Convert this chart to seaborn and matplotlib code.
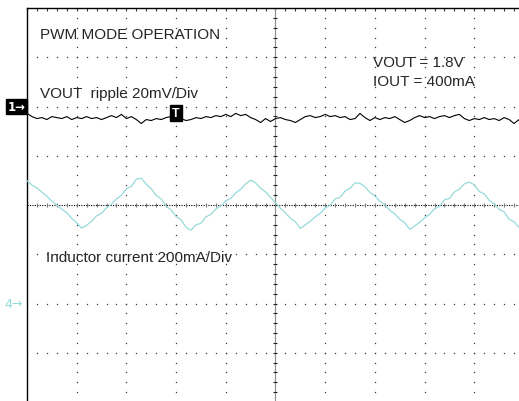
#!/usr/bin/env python3

import numpy as np
import matplotlib
matplotlib.use("Agg")
import matplotlib.pyplot as plt
import seaborn as sns

# Scope screen: 10 horizontal divisions, 8 vertical divisions
n_xdiv = 10
n_ydiv = 8

# Channel settings
ch1_offset_div = 2.0      # "1->" marker
ch1_scale_mv = 20.0       # VOUT ripple 20mV/Div
ch4_offset_div = -2.0     # "4->" marker
ch4_scale_ma = 200.0      # Inductor current 200mA/Div

# Sample positions along the time axis, in divisions
time_div = np.arange(101) * 0.1

# VOUT ripple (AC coupled), mV relative to the ch1 marker
vout_mv = [-2.8, -4.1, -4.9, -4.5, -5.3, -4.1, -4.5, -4.9, -4.1, -5.3,
           -4.5, -4.9, -4.1, -4.9, -4.5, -5.3, -4.5, -3.7, -4.5, -3.2,
           -4.9, -4.1, -5.3, -6.9, -5.3, -5.7, -4.9, -5.3, -4.5, -4.1,
           -3.7, -4.9, -5.7, -5.3, -4.5, -4.9, -4.1, -4.5, -3.7, -4.1,
           -3.2, -4.1, -2.8, -3.7, -3.2, -4.5, -5.3, -6.5, -4.9, -6.1,
           -4.9, -4.5, -5.3, -5.7, -6.5, -5.3, -4.1, -3.7, -4.5, -4.1,
           -3.2, -4.1, -3.7, -4.5, -4.1, -5.3, -4.9, -2.8, -4.5, -5.7,
           -4.5, -5.3, -4.5, -4.9, -4.1, -5.3, -6.5, -5.7, -4.5, -3.7,
           -4.5, -4.1, -4.9, -4.1, -3.7, -4.5, -3.7, -3.2, -4.9, -5.7,
           -4.9, -5.3, -4.5, -5.3, -4.9, -5.7, -4.5, -5.3, -6.9, -5.3,
           -4.9]

# Inductor current, mA
il_ma = [499, 481, 469, 452, 436, 415, 400, 383, 368, 346,
         327, 306, 318, 334, 356, 366, 389, 403, 425, 439,
         466, 476, 505, 509, 484, 466, 439, 425, 395, 380,
         353, 340, 309, 298, 319, 326, 352, 362, 384, 395,
         417, 427, 449, 464, 486, 501, 490, 468, 453, 431,
         409, 387, 368, 346, 332, 305, 319, 334, 352, 366,
         388, 399, 425, 431, 457, 468, 490, 488, 474, 451,
         437, 415, 401, 378, 364, 342, 328, 301, 315, 330,
         348, 362, 384, 395, 421, 427, 453, 464, 486, 493,
         482, 455, 445, 419, 405, 382, 372, 342, 332, 309,
         302]

trigger_pos_div = 3.0

FONTS = ['Liberation Sans', 'DejaVu Sans']
MARK_FONTS = ['DejaVu Sans']
CYAN = '#97dada'
GRID = '#3a3a3a'


def draw_graticule(ax):
    """Dotted scope graticule with the centre cross ticks."""
    minor = np.arange(0, n_xdiv + 0.01, 0.2)
    minor_y = np.arange(-n_ydiv / 2, n_ydiv / 2 + 0.01, 0.2)
    for xv in range(1, n_xdiv):
        if xv == n_xdiv // 2:
            continue
        ax.plot(np.full_like(minor_y, xv), minor_y, ls='none', marker='s',
                ms=0.9, mew=0, color=GRID, zorder=1)
    for yv in range(-n_ydiv // 2 + 1, n_ydiv // 2):
        if yv == 0:
            continue
        ax.plot(minor, np.full_like(minor, yv), ls='none', marker='s',
                ms=0.9, mew=0, color=GRID, zorder=1)

    # centre vertical: grey line with small black ticks
    ax.axvline(n_xdiv / 2, color='#8a8a8a', lw=0.8, zorder=1)
    ax.plot(np.full_like(minor_y, n_xdiv / 2), minor_y, ls='none', marker='_',
            ms=3.5, mew=0.8, color='#222222', zorder=1)
    # centre horizontal: fine dotted black line with grey ticks
    ax.axhline(0, color='black', lw=0.8, ls=(0, (1, 1.2)), zorder=1)
    ax.plot(minor, np.zeros_like(minor), ls='none', marker='|',
            ms=3.5, mew=0.8, color='#777777', zorder=1)


def main():
    sns.set_style('white')
    plt.rcParams['font.family'] = FONTS

    fig = plt.figure(figsize=(5.19, 4.02), dpi=100)
    ax = fig.add_axes([27 / 519, 1 - 403 / 402, 497 / 519, 394 / 402])
    ax.set_xlim(0, n_xdiv)
    ax.set_ylim(-n_ydiv / 2, n_ydiv / 2)

    for side in ['right', 'bottom']:
        ax.spines[side].set_visible(False)
    for side in ['top', 'left']:
        ax.spines[side].set_color('black')
        ax.spines[side].set_linewidth(1.0)

    ax.xaxis.set_ticks_position('top')
    ax.set_xticks(np.arange(0, n_xdiv + 0.01, 0.2))
    ax.set_yticks(np.arange(-n_ydiv / 2, n_ydiv / 2 + 0.01, 0.2))
    ax.tick_params(direction='in', length=2.5, width=0.8, color=GRID,
                   labeltop=False, labelleft=False, labelbottom=False)
    ax.set_xlabel('')
    ax.set_ylabel('')

    draw_graticule(ax)

    ch1_y = np.array(vout_mv) / ch1_scale_mv + ch1_offset_div
    ch4_y = np.array(il_ma) / ch4_scale_ma + ch4_offset_div

    sns.lineplot(x=time_div, y=ch4_y, ax=ax, color=CYAN, lw=0.9, zorder=3)
    sns.lineplot(x=time_div, y=ch1_y, ax=ax, color='black', lw=0.8, zorder=4)

    # channel markers on the left edge
    ax.text(-0.21, ch1_offset_div, '1\u2192', ha='center', va='center',
            color='white', fontsize=8.5, fontweight='bold', clip_on=False,
            family=MARK_FONTS,
            bbox=dict(boxstyle='square,pad=0.1', fc='black', ec='black'))
    ax.text(-0.27, ch4_offset_div, '4\u2192', ha='center', va='center',
            color=CYAN, fontsize=9, clip_on=False, family=MARK_FONTS)
    # trigger marker
    ax.text(trigger_pos_div, 1.87, 'T', ha='center', va='center',
            color='white', fontsize=9, fontweight='bold', zorder=5,
            bbox=dict(boxstyle='square,pad=0.15', fc='black', ec='black'))

    # annotations
    ax.text(0.26, 3.47, 'PWM MODE OPERATION', fontsize=11, va='center')
    ax.text(0.26, 2.27, 'VOUT  ripple 20mV/Div', fontsize=11, va='center')
    ax.text(6.96, 2.90, 'VOUT = 1.8V', fontsize=11, va='center')
    ax.text(6.96, 2.52, 'IOUT = 400mA', fontsize=11, va='center')
    ax.text(0.38, -1.05, 'Inductor current 200mA/Div', fontsize=11, va='center')

    fig.savefig('out.png', dpi=100, facecolor='white')
    plt.close(fig)


if __name__ == '__main__':
    main()
